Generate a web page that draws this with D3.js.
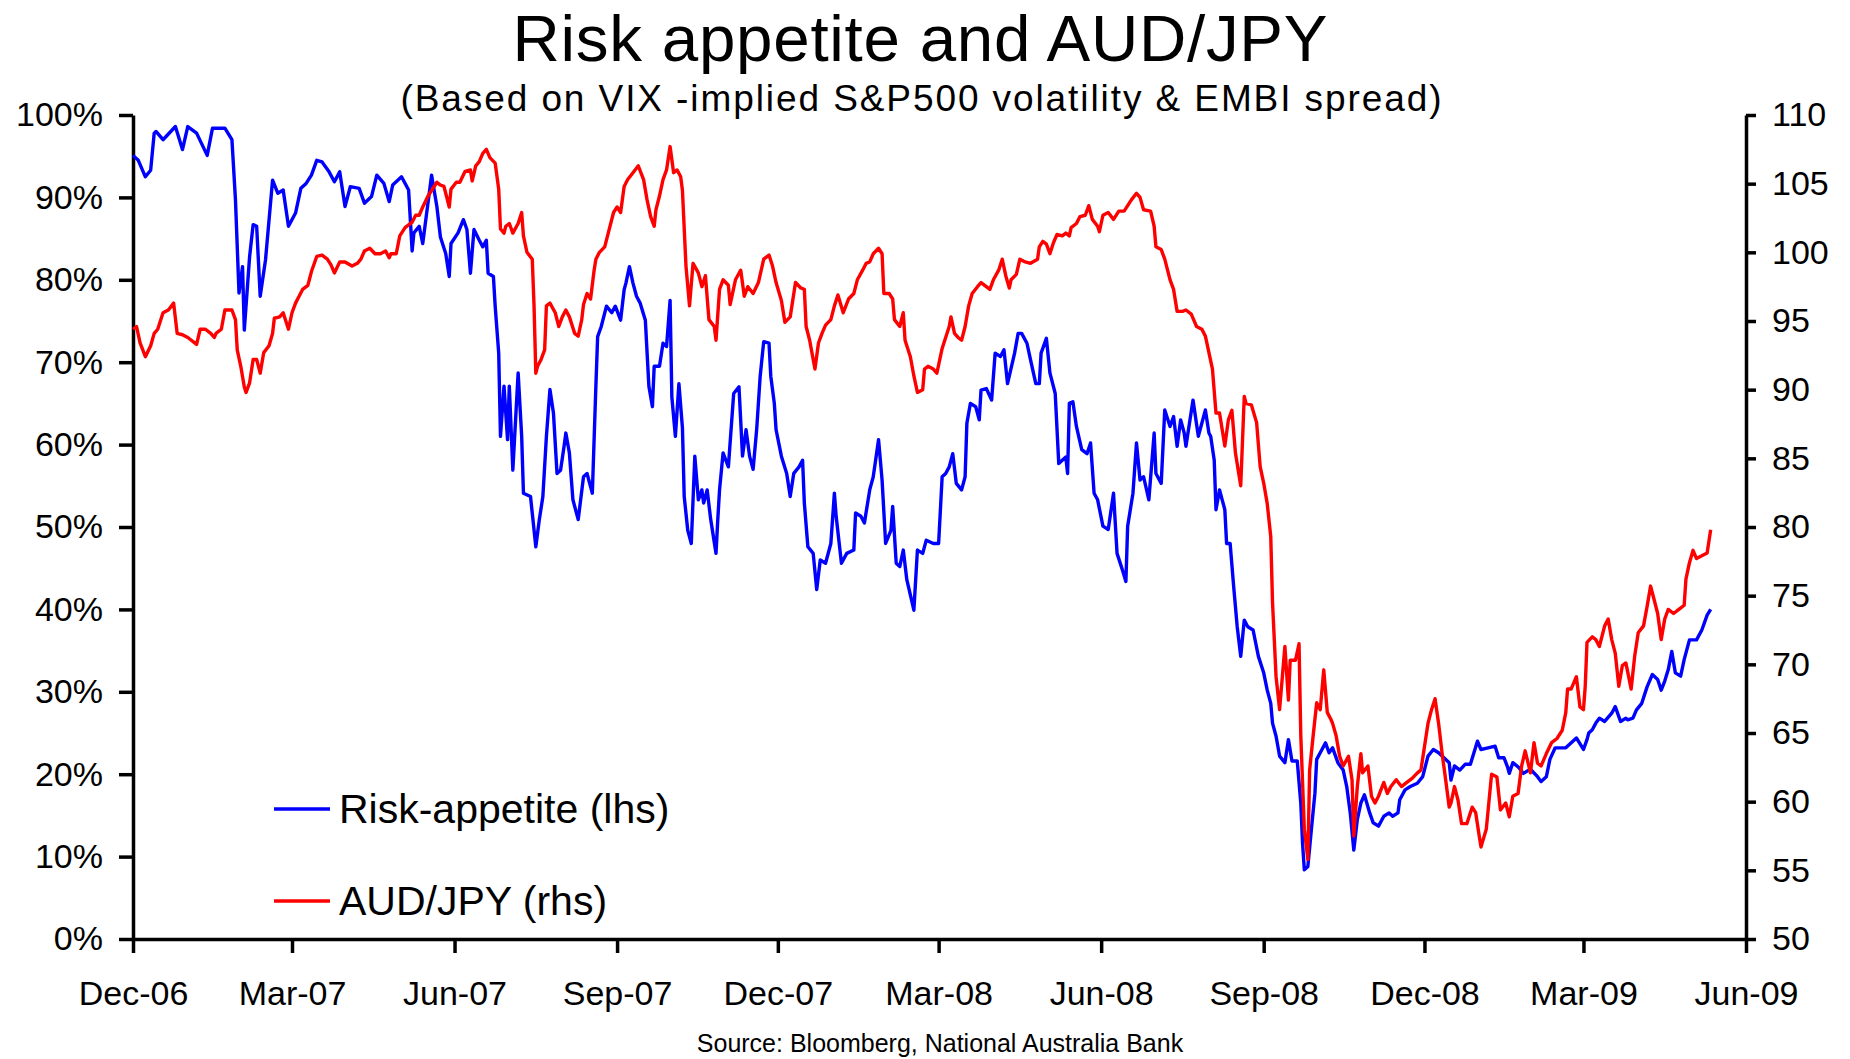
<!DOCTYPE html>
<html lang="en">
<head>
<meta charset="utf-8" />
<title>Risk appetite and AUD/JPY</title>
<script src="https://cdn.jsdelivr.net/npm/d3@7"></script>
<style>
  body { margin: 0; background: #fff; }
  svg { display: block; font-family: "Liberation Sans", Arial, sans-serif; }
  .axis path, .axis line { stroke: #000; stroke-width: 3.5px; }
  .axis text { fill: #000; font-size: 34px; font-family: "Liberation Sans", Arial, sans-serif; }
  .series { fill: none; stroke-width: 3.4px; stroke-linejoin: round; }
</style>
</head>
<body>
<div id="chart"></div>
<script>
// Risk appetite index, % (left axis)
var riskAppetite = [
  ["2006-12-01",95.1],["2006-12-04",94.5],["2006-12-08",92.5],["2006-12-11",93.3],["2006-12-13",97.8],["2006-12-14",98],["2006-12-18",97],["2006-12-25",98.6],["2006-12-29",95.8],
  ["2007-01-01",98.6],["2007-01-06",97.8],["2007-01-12",95.1],["2007-01-15",98.4],["2007-01-22",98.4],["2007-01-26",97],["2007-01-28",89.7],["2007-01-30",78.4],
  ["2007-02-01",81.6],["2007-02-02",73.9],["2007-02-05",82.8],["2007-02-07",86.7],["2007-02-09",86.5],["2007-02-11",78],["2007-02-14",82.4],["2007-02-18",92.1],["2007-02-21",90.5],["2007-02-24",90.9],["2007-02-27",86.5],
  ["2007-03-03",88.1],["2007-03-06",91.1],["2007-03-09",91.7],["2007-03-12",92.7],["2007-03-15",94.5],["2007-03-18",94.3],["2007-03-22",93.1],["2007-03-25",91.9],["2007-03-28",93.1],["2007-03-31",88.9],
  ["2007-04-03",91.3],["2007-04-08",91.1],["2007-04-11",89.3],["2007-04-15",90.1],["2007-04-18",92.7],["2007-04-22",91.7],["2007-04-25",89.5],["2007-04-27",91.5],
  ["2007-05-02",92.5],["2007-05-06",90.9],["2007-05-08",83.5],["2007-05-09",85.7],["2007-05-12",86.5],["2007-05-14",84.4],["2007-05-19",92.7],["2007-05-22",88.9],["2007-05-24",85.2],["2007-05-27",83.2],["2007-05-29",80.4],["2007-05-30",84.4],
  ["2007-06-03",85.7],["2007-06-06",87.3],["2007-06-08",86.1],["2007-06-10",80.8],["2007-06-12",86.1],["2007-06-15",84.8],["2007-06-17",84],["2007-06-19",84.8],["2007-06-20",80.8],["2007-06-23",80.4],["2007-06-24",76.8],["2007-06-26",71.1],["2007-06-27",61],["2007-06-29",67.1],
  ["2007-07-01",60.6],["2007-07-02",67.1],["2007-07-04",56.9],["2007-07-07",68.7],["2007-07-09",61],["2007-07-10",54.1],["2007-07-14",53.7],["2007-07-17",47.6],["2007-07-19",50.9],["2007-07-21",53.7],["2007-07-23",61],["2007-07-25",66.7],["2007-07-27",63.8],["2007-07-29",56.5],["2007-07-31",56.9],
  ["2007-08-02",59.8],["2007-08-03",61.4],["2007-08-05",59],["2007-08-07",53.3],["2007-08-10",50.9],["2007-08-13",56.1],["2007-08-15",56.5],["2007-08-18",54.1],["2007-08-20",67.1],["2007-08-21",73.1],["2007-08-23",74.3],["2007-08-26",76.8],["2007-08-29",76],["2007-08-31",76.8],
  ["2007-09-03",75.1],["2007-09-05",78.8],["2007-09-06",79.6],["2007-09-08",81.6],["2007-09-10",79.6],["2007-09-12",78],["2007-09-14",77.2],["2007-09-17",75.1],["2007-09-19",67.1],["2007-09-21",64.6],["2007-09-22",69.5],["2007-09-25",69.5],["2007-09-27",72.3],["2007-09-29",71.9],
  ["2007-10-01",77.5],["2007-10-02",65.8],["2007-10-04",61],["2007-10-06",67.4],["2007-10-08",62],["2007-10-09",53.7],["2007-10-11",49.6],["2007-10-13",48],["2007-10-15",58.6],["2007-10-17",53.3],["2007-10-19",54.5],["2007-10-20",52.9],["2007-10-22",54.5],["2007-10-24",50.9],["2007-10-27",46.8],["2007-10-28",50.9],["2007-10-29",54.5],["2007-10-31",59],
  ["2007-11-03",57.3],["2007-11-06",66.2],["2007-11-09",67],["2007-11-11",58.6],["2007-11-13",61.8],["2007-11-15",58.6],["2007-11-17",57],["2007-11-19",61.8],["2007-11-21",68.3],["2007-11-23",72.5],["2007-11-26",72.3],["2007-11-27",68.3],["2007-11-29",65],["2007-11-30",61.8],
  ["2007-12-03",58.6],["2007-12-06",56.5],["2007-12-08",53.7],["2007-12-10",56.5],["2007-12-13",57.3],["2007-12-15",58.1],["2007-12-16",52.9],["2007-12-18",47.6],["2007-12-21",46.8],["2007-12-23",42.4],["2007-12-25",46],["2007-12-28",45.6],["2007-12-31",48],
  ["2008-01-02",54.1],["2008-01-03",51.3],["2008-01-06",45.6],["2008-01-09",46.8],["2008-01-13",47.2],["2008-01-14",51.7],["2008-01-17",51.3],["2008-01-19",50.5],["2008-01-22",54.5],["2008-01-24",56.1],["2008-01-27",60.6],["2008-01-29",55.7],["2008-01-31",48],
  ["2008-02-03",49.6],["2008-02-04",52.5],["2008-02-06",45.6],["2008-02-08",45.2],["2008-02-10",47.2],["2008-02-12",43.6],["2008-02-16",39.9],["2008-02-18",47.2],["2008-02-21",46.8],["2008-02-23",48.4],["2008-02-27",48],
  ["2008-03-01",48],["2008-03-03",56.1],["2008-03-05",56.5],["2008-03-07",57.3],["2008-03-09",58.9],["2008-03-11",55.3],["2008-03-14",54.5],["2008-03-16",56.1],["2008-03-17",62.6],["2008-03-19",65],["2008-03-22",64.6],["2008-03-24",63],["2008-03-25",66.6],["2008-03-28",66.8],["2008-03-31",65.4],
  ["2008-04-02",71.1],["2008-04-05",70.7],["2008-04-07",71.5],["2008-04-09",67.4],["2008-04-10",68.3],["2008-04-13",71.1],["2008-04-15",73.5],["2008-04-17",73.5],["2008-04-20",72.3],["2008-04-22",70.3],["2008-04-25",67.4],["2008-04-27",67.4],["2008-04-28",71.1],
  ["2008-05-01",72.9],["2008-05-03",68.7],["2008-05-06",66.2],["2008-05-08",57.7],["2008-05-10",58.1],["2008-05-12",58.5],["2008-05-13",56.5],["2008-05-14",65],["2008-05-16",65.2],["2008-05-18",62.2],["2008-05-21",59.4],["2008-05-24",58.9],["2008-05-26",60.2],["2008-05-28",54.1],["2008-05-30",53.3],
  ["2008-06-02",50.1],["2008-06-05",49.7],["2008-06-08",54.1],["2008-06-10",46.8],["2008-06-13",44.8],["2008-06-15",43.4],["2008-06-16",50.1],["2008-06-19",54.1],["2008-06-21",60.2],["2008-06-23",55.7],["2008-06-25",56.1],["2008-06-28",53.3],
  ["2008-07-01",61.4],["2008-07-02",56.5],["2008-07-05",55.3],["2008-07-07",64.2],["2008-07-10",62.2],["2008-07-12",63.4],["2008-07-14",59.8],["2008-07-16",63],["2008-07-18",61.4],["2008-07-19",59.8],["2008-07-23",65.4],["2008-07-26",61],["2008-07-30",64.2],
  ["2008-08-01",61.4],["2008-08-02",61],["2008-08-04",58.1],["2008-08-05",52.1],["2008-08-07",54.5],["2008-08-10",52.1],["2008-08-11",48],["2008-08-13",48],["2008-08-15",42.8],["2008-08-17",37.9],["2008-08-19",34.3],["2008-08-21",38.7],["2008-08-23",37.9],["2008-08-26",37.5],["2008-08-29",34.3],
  ["2008-09-01",32.3],["2008-09-03",30.2],["2008-09-05",28.6],["2008-09-06",26.2],["2008-09-08",24.6],["2008-09-10",22.2],["2008-09-13",21.4],["2008-09-15",24.2],["2008-09-17",21.6],["2008-09-20",21.6],["2008-09-22",16.5],["2008-09-23",11.6],["2008-09-24",8.4],["2008-09-26",8.8],["2008-09-28",13.3],["2008-09-30",17.7],
  ["2008-10-01",21.8],["2008-10-03",22.6],["2008-10-06",23.8],["2008-10-08",22.6],["2008-10-10",23.2],["2008-10-13",21.4],["2008-10-16",20.5],["2008-10-18",18.5],["2008-10-20",15.3],["2008-10-22",10.8],["2008-10-24",14.5],["2008-10-26",16.5],["2008-10-28",17.5],["2008-10-31",15.3],
  ["2008-11-02",14.1],["2008-11-05",13.7],["2008-11-08",14.9],["2008-11-11",15.3],["2008-11-13",14.9],["2008-11-16",15.3],["2008-11-17",16.9],["2008-11-20",18.1],["2008-11-23",18.5],["2008-11-27",18.9],["2008-11-30",19.7],
  ["2008-12-03",22.2],["2008-12-06",23],["2008-12-09",22.6],["2008-12-12",22],["2008-12-15",21.4],["2008-12-16",19.3],["2008-12-18",21],["2008-12-21",20.5],["2008-12-24",21.2],["2008-12-27",21.2],["2008-12-29",22.6],["2008-12-31",24],
  ["2009-01-02",23],["2009-01-06",23.2],["2009-01-10",23.4],["2009-01-12",22],["2009-01-15",22],["2009-01-17",20.9],["2009-01-18",20.1],["2009-01-20",21.4],["2009-01-23",20.9],["2009-01-26",20.1],["2009-01-30",20.6],
  ["2009-02-03",19.7],["2009-02-05",19.1],["2009-02-08",19.7],["2009-02-10",21.8],["2009-02-13",23.2],["2009-02-16",23.2],["2009-02-19",23.2],["2009-02-21",23.6],["2009-02-25",24.4],
  ["2009-03-01",23],["2009-03-03",24.2],["2009-03-04",25],["2009-03-06",25.4],["2009-03-08",26.2],["2009-03-10",26.8],["2009-03-13",26.4],["2009-03-17",27.4],["2009-03-19",28.2],["2009-03-22",26.4],["2009-03-25",26.8],["2009-03-26",26.6],["2009-03-29",26.8],["2009-03-31",27.8],
  ["2009-04-03",28.6],["2009-04-06",30.6],["2009-04-09",32.1],["2009-04-12",31.5],["2009-04-14",30.2],["2009-04-16",31.3],["2009-04-18",32.7],["2009-04-20",34.9],["2009-04-22",32.3],["2009-04-25",31.9],["2009-04-27",33.9],["2009-04-30",36.3],
  ["2009-05-04",36.3],["2009-05-07",37.5],["2009-05-10",39.3],["2009-05-12",40]
];

// AUD/JPY exchange rate (right axis)
var audJpy = [
  ["2006-12-01",94.4],["2006-12-03",94.6],["2006-12-05",93.4],["2006-12-08",92.4],["2006-12-11",93.2],["2006-12-13",94.1],["2006-12-15",94.4],["2006-12-18",95.6],["2006-12-21",95.8],["2006-12-24",96.3],["2006-12-26",94.1],["2006-12-29",94],
  ["2007-01-01",93.8],["2007-01-06",93.3],["2007-01-08",94.4],["2007-01-11",94.4],["2007-01-14",94.1],["2007-01-16",93.8],["2007-01-17",94.1],["2007-01-20",94.4],["2007-01-22",95.8],["2007-01-26",95.8],["2007-01-28",95.1],["2007-01-29",92.9],["2007-01-31",91.7],
  ["2007-02-02",90.2],["2007-02-03",89.8],["2007-02-05",90.5],["2007-02-07",92.2],["2007-02-09",92.2],["2007-02-11",91.2],["2007-02-13",92.7],["2007-02-16",93.2],["2007-02-18",94.1],["2007-02-19",95.2],["2007-02-22",95.3],["2007-02-24",95.6],["2007-02-27",94.4],
  ["2007-03-01",95.6],["2007-03-03",96.3],["2007-03-05",96.8],["2007-03-07",97.3],["2007-03-10",97.6],["2007-03-12",98.6],["2007-03-15",99.7],["2007-03-18",99.8],["2007-03-21",99.5],["2007-03-23",99.1],["2007-03-25",98.5],["2007-03-28",99.3],["2007-03-31",99.3],
  ["2007-04-04",99],["2007-04-07",99.2],["2007-04-09",99.5],["2007-04-11",100.1],["2007-04-14",100.3],["2007-04-17",99.9],["2007-04-20",99.9],["2007-04-23",100.1],["2007-04-25",99.6],["2007-04-26",99.9],["2007-04-29",99.9],
  ["2007-05-01",101.2],["2007-05-04",101.8],["2007-05-08",102.2],["2007-05-10",102.7],["2007-05-12",102.7],["2007-05-14",103.3],["2007-05-17",104.1],["2007-05-20",104.7],["2007-05-22",105.1],["2007-05-24",104.9],["2007-05-26",104.8],["2007-05-29",103.3],["2007-05-30",104.6],
  ["2007-06-02",105.1],["2007-06-04",105.1],["2007-06-07",105.9],["2007-06-10",106],["2007-06-11",105.2],["2007-06-13",106.3],["2007-06-15",106.6],["2007-06-17",107.2],["2007-06-19",107.5],["2007-06-21",106.9],["2007-06-24",106.5],["2007-06-26",104.6],["2007-06-27",101.7],["2007-06-29",101.4],["2007-06-30",101.9],
  ["2007-07-02",102.1],["2007-07-04",101.4],["2007-07-07",102.1],["2007-07-09",102.9],["2007-07-10",101.2],["2007-07-12",100],["2007-07-15",99.5],["2007-07-16",96.1],["2007-07-17",91.2],["2007-07-18",91.7],["2007-07-20",92.2],["2007-07-22",92.9],["2007-07-23",96.1],["2007-07-25",96.3],["2007-07-28",95.6],["2007-07-30",94.6],
  ["2007-08-01",95.3],["2007-08-03",95.8],["2007-08-05",95.3],["2007-08-08",94.1],["2007-08-10",93.9],["2007-08-12",95.1],["2007-08-13",96.2],["2007-08-15",97],["2007-08-17",96.6],["2007-08-19",98.7],["2007-08-20",99.5],["2007-08-22",100],["2007-08-25",100.4],["2007-08-27",101.4],["2007-08-30",102.9],
  ["2007-09-01",103.3],["2007-09-03",102.9],["2007-09-05",104.8],["2007-09-07",105.3],["2007-09-10",105.8],["2007-09-13",106.3],["2007-09-16",105.3],["2007-09-18",103.8],["2007-09-20",102.6],["2007-09-22",101.9],["2007-09-23",103.1],["2007-09-25",104.1],["2007-09-27",105.3],["2007-09-29",106],
  ["2007-10-01",107.7],["2007-10-03",105.8],["2007-10-05",106],["2007-10-07",105.5],["2007-10-08",104.5],["2007-10-10",99],["2007-10-12",96.1],["2007-10-14",99.2],["2007-10-17",98.5],["2007-10-19",97.5],["2007-10-21",98.3],["2007-10-23",95.1],["2007-10-26",94.6],["2007-10-27",93.6],["2007-10-29",97.3],["2007-10-31",98],
  ["2007-11-03",97.6],["2007-11-04",96.2],["2007-11-07",98],["2007-11-10",98.7],["2007-11-12",96.8],["2007-11-14",97.5],["2007-11-17",97],["2007-11-20",97.8],["2007-11-23",99.5],["2007-11-26",99.8],["2007-11-28",99],["2007-11-30",97.8],
  ["2007-12-03",96.5],["2007-12-05",94.9],["2007-12-08",95.3],["2007-12-11",97.8],["2007-12-14",97.4],["2007-12-16",97.3],["2007-12-17",94.6],["2007-12-19",93.6],["2007-12-21",92.2],["2007-12-22",91.5],["2007-12-24",93.4],["2007-12-26",94.1],["2007-12-28",94.7],["2007-12-31",95.1],
  ["2008-01-02",96.1],["2008-01-04",96.9],["2008-01-07",95.6],["2008-01-10",96.6],["2008-01-13",97],["2008-01-15",98],["2008-01-18",98.7],["2008-01-20",99.2],["2008-01-22",99.3],["2008-01-24",99.9],["2008-01-27",100.3],["2008-01-29",99.9],["2008-01-30",97],
  ["2008-02-02",97],["2008-02-04",96.6],["2008-02-05",95.1],["2008-02-08",94.6],["2008-02-10",95.6],["2008-02-11",93.6],["2008-02-14",92.4],["2008-02-16",91],["2008-02-18",89.8],["2008-02-21",90],["2008-02-22",91.5],["2008-02-24",91.7],["2008-02-27",91.5],["2008-02-29",91.2],
  ["2008-03-03",93],["2008-03-07",94.6],["2008-03-08",95.3],["2008-03-10",94.1],["2008-03-12",93.8],["2008-03-14",93.6],["2008-03-16",94.6],["2008-03-18",96.1],["2008-03-20",97],["2008-03-23",97.5],["2008-03-25",97.8],["2008-03-28",97.5],["2008-03-30",97.3],
  ["2008-04-01",98],["2008-04-04",98.7],["2008-04-06",99.5],["2008-04-08",98.3],["2008-04-10",97.4],["2008-04-11",98],["2008-04-14",98.4],["2008-04-16",99.5],["2008-04-19",99.3],["2008-04-22",99.2],["2008-04-26",99.5],["2008-04-27",100.4],["2008-04-29",100.8],
  ["2008-05-01",100.6],["2008-05-03",99.9],["2008-05-05",100.7],["2008-05-07",101.3],["2008-05-10",101.2],["2008-05-12",101.4],["2008-05-14",101.2],["2008-05-15",101.8],["2008-05-18",102.1],["2008-05-20",102.6],["2008-05-23",102.7],["2008-05-25",103.4],["2008-05-27",102.4],["2008-05-30",101.9],["2008-05-31",101.5],
  ["2008-06-02",102.7],["2008-06-05",102.9],["2008-06-08",102.4],["2008-06-11",103],["2008-06-14",103],["2008-06-16",103.4],["2008-06-18",103.8],["2008-06-21",104.3],["2008-06-23",104],["2008-06-25",103.1],["2008-06-29",103],
  ["2008-07-01",101.9],["2008-07-02",100.4],["2008-07-05",100.2],["2008-07-07",99.5],["2008-07-10",98],["2008-07-12",97.3],["2008-07-14",95.7],["2008-07-17",95.7],["2008-07-19",95.8],["2008-07-22",95.5],["2008-07-25",94.6],["2008-07-28",94.4],["2008-07-30",93.9],
  ["2008-08-01",92.7],["2008-08-03",91.5],["2008-08-05",88.3],["2008-08-07",88.3],["2008-08-10",85.9],["2008-08-12",87.8],["2008-08-14",88.5],["2008-08-16",85.4],["2008-08-19",83],["2008-08-21",89.5],["2008-08-22",89],["2008-08-25",88.9],["2008-08-28",87.6],["2008-08-30",84.4],
  ["2008-09-01",83.2],["2008-09-03",81.7],["2008-09-05",79.3],["2008-09-06",74.5],["2008-09-08",69.1],["2008-09-10",66.7],["2008-09-13",71.3],["2008-09-15",67.4],["2008-09-16",70.3],["2008-09-19",70.3],["2008-09-21",71.5],["2008-09-22",64.8],["2008-09-24",58],["2008-09-26",55.8],["2008-09-27",62.3],["2008-09-29",64.8],
  ["2008-10-01",67.2],["2008-10-03",66.7],["2008-10-05",69.6],["2008-10-07",66.5],["2008-10-09",66],["2008-10-10",65.7],["2008-10-12",64.8],["2008-10-14",63.3],["2008-10-16",62.6],["2008-10-19",63.3],["2008-10-21",61.6],["2008-10-22",57.5],["2008-10-24",61.1],["2008-10-26",63.5],["2008-10-27",62.1],["2008-10-30",62.6],
  ["2008-11-01",60.4],["2008-11-03",59.9],["2008-11-05",60.4],["2008-11-08",61.4],["2008-11-10",60.6],["2008-11-12",61.1],["2008-11-15",61.6],["2008-11-18",61.1],["2008-11-21",61.4],["2008-11-24",61.7],["2008-11-27",62.1],["2008-11-29",62.3],
  ["2008-12-01",64],["2008-12-03",65.7],["2008-12-05",66.7],["2008-12-07",67.5],["2008-12-09",65.7],["2008-12-11",63.5],["2008-12-13",61.6],["2008-12-15",59.6],["2008-12-16",59.9],["2008-12-18",61.1],["2008-12-20",60.1],["2008-12-22",58.4],["2008-12-25",58.4],["2008-12-28",59.6],["2008-12-30",59.2],
  ["2009-01-01",57.5],["2009-01-02",56.7],["2009-01-05",58],["2009-01-08",62],["2009-01-11",61.8],["2009-01-13",59.4],["2009-01-16",59.9],["2009-01-18",58.9],["2009-01-20",60.4],["2009-01-23",60.6],["2009-01-25",62.6],["2009-01-27",63.7],["2009-01-30",62.1],
  ["2009-02-01",64.3],["2009-02-03",62.8],["2009-02-05",62.6],["2009-02-08",63.5],["2009-02-11",64.3],["2009-02-14",64.6],["2009-02-17",65.2],["2009-02-19",66.5],["2009-02-20",68.2],["2009-02-22",68.2],["2009-02-25",69.1],["2009-02-27",66.9],
  ["2009-03-01",66.7],["2009-03-02",68.4],["2009-03-03",71.6],["2009-03-06",72],["2009-03-08",71.8],["2009-03-10",71.3],["2009-03-13",72.8],["2009-03-15",73.3],["2009-03-17",71.8],["2009-03-19",70.8],["2009-03-21",68.4],["2009-03-23",69.9],["2009-03-25",70.1],["2009-03-28",68.2],["2009-03-30",70.6],
  ["2009-04-01",72.3],["2009-04-04",72.8],["2009-04-06",74.2],["2009-04-08",75.7],["2009-04-10",74.7],["2009-04-12",73.7],["2009-04-14",71.8],["2009-04-16",73.3],["2009-04-18",74],["2009-04-21",73.7],["2009-04-24",74],["2009-04-27",74.3],["2009-04-28",76.2],["2009-04-30",77.4],
  ["2009-05-02",78.3],["2009-05-04",77.7],["2009-05-07",77.9],["2009-05-10",78.1],["2009-05-12",79.8]
];

var leftTicks = [0, 10, 20, 30, 40, 50, 60, 70, 80, 90, 100];
var rightTicks = [50, 55, 60, 65, 70, 75, 80, 85, 90, 95, 100, 105, 110];
var xTickDates = ["2006-12-01","2007-03-01","2007-06-01","2007-09-01","2007-12-01","2008-03-01","2008-06-01","2008-09-01","2008-12-01","2009-03-01","2009-06-01"];
var xTickLabels = ["Dec-06","Mar-07","Jun-07","Sep-07","Dec-07","Mar-08","Jun-08","Sep-08","Dec-08","Mar-09","Jun-09"];

var title = "Risk appetite and AUD/JPY";
var subtitle = "(Based on VIX -implied S&P500 volatility & EMBI spread)";
var source = "Source: Bloomberg, National Australia Bank";

var width = 1850, height = 1059;
var margin = {top: 115, right: 104, bottom: 120, left: 133};
var innerW = width - margin.left - margin.right;
var innerH = height - margin.top - margin.bottom;

var parse = d3.timeParse("%Y-%m-%d");
var tickDates = xTickDates.map(parse);

var x = d3.scaleTime()
    .domain([tickDates[0], tickDates[tickDates.length - 1]])
    .range([0, innerW]);
var yLeft = d3.scaleLinear().domain([0, 100]).range([innerH, 0]);
var yRight = d3.scaleLinear().domain([50, 110]).range([innerH, 0]);

var svg = d3.select("#chart").append("svg")
    .attr("width", width)
    .attr("height", height);

svg.append("rect").attr("width", width).attr("height", height).attr("fill", "#fff");

// titles
svg.append("text")
    .attr("x", 920).attr("y", 61)
    .attr("text-anchor", "middle")
    .attr("font-size", 65.5)
    .attr("textLength", 815)
    .attr("lengthAdjust", "spacing")
    .text(title);

svg.append("text")
    .attr("x", 921).attr("y", 111)
    .attr("text-anchor", "middle")
    .attr("font-size", 37)
    .attr("textLength", 1041)
    .attr("lengthAdjust", "spacing")
    .text(subtitle);

svg.append("text")
    .attr("x", 940).attr("y", 1052)
    .attr("text-anchor", "middle")
    .attr("font-size", 25)
    .text(source);

var g = svg.append("g").attr("transform", "translate(" + margin.left + "," + margin.top + ")");

// axes
g.append("g").attr("class", "axis")
    .call(d3.axisLeft(yLeft).tickValues(leftTicks).tickSize(14).tickSizeOuter(0).tickPadding(16)
      .tickFormat(function(d) { return d + "%"; }));

g.append("g").attr("class", "axis")
    .attr("transform", "translate(" + innerW + ",0)")
    .call(d3.axisRight(yRight).tickValues(rightTicks).tickSize(10).tickSizeOuter(0).tickPadding(16));

g.append("g").attr("class", "axis")
    .attr("transform", "translate(0," + innerH + ")")
    .call(d3.axisBottom(x).tickValues(tickDates).tickSize(14).tickSizeOuter(0).tickPadding(28)
      .tickFormat(function(d, i) { return xTickLabels[i]; }));

// lines
var lineLeft = d3.line()
    .x(function(d) { return x(parse(d[0])); })
    .y(function(d) { return yLeft(d[1]); });
var lineRight = d3.line()
    .x(function(d) { return x(parse(d[0])); })
    .y(function(d) { return yRight(d[1]); });

g.append("path").datum(riskAppetite)
    .attr("class", "series")
    .attr("stroke", "#0000ff")
    .attr("d", lineLeft);

g.append("path").datum(audJpy)
    .attr("class", "series")
    .attr("stroke", "#ff0000")
    .attr("d", lineRight);

// legend
var legend = [
  {label: "Risk-appetite (lhs)", color: "#0000ff", y: 809},
  {label: "AUD/JPY (rhs)", color: "#ff0000", y: 901}
];
var leg = svg.selectAll(".legend").data(legend).enter().append("g").attr("class", "legend");
leg.append("line")
    .attr("x1", 274).attr("x2", 330)
    .attr("y1", function(d) { return d.y; }).attr("y2", function(d) { return d.y; })
    .attr("stroke", function(d) { return d.color; })
    .attr("stroke-width", 3.5);
leg.append("text")
    .attr("x", 339).attr("y", function(d) { return d.y + 14; })
    .attr("font-size", 41)
    .text(function(d) { return d.label; });
</script>
</body>
</html>
